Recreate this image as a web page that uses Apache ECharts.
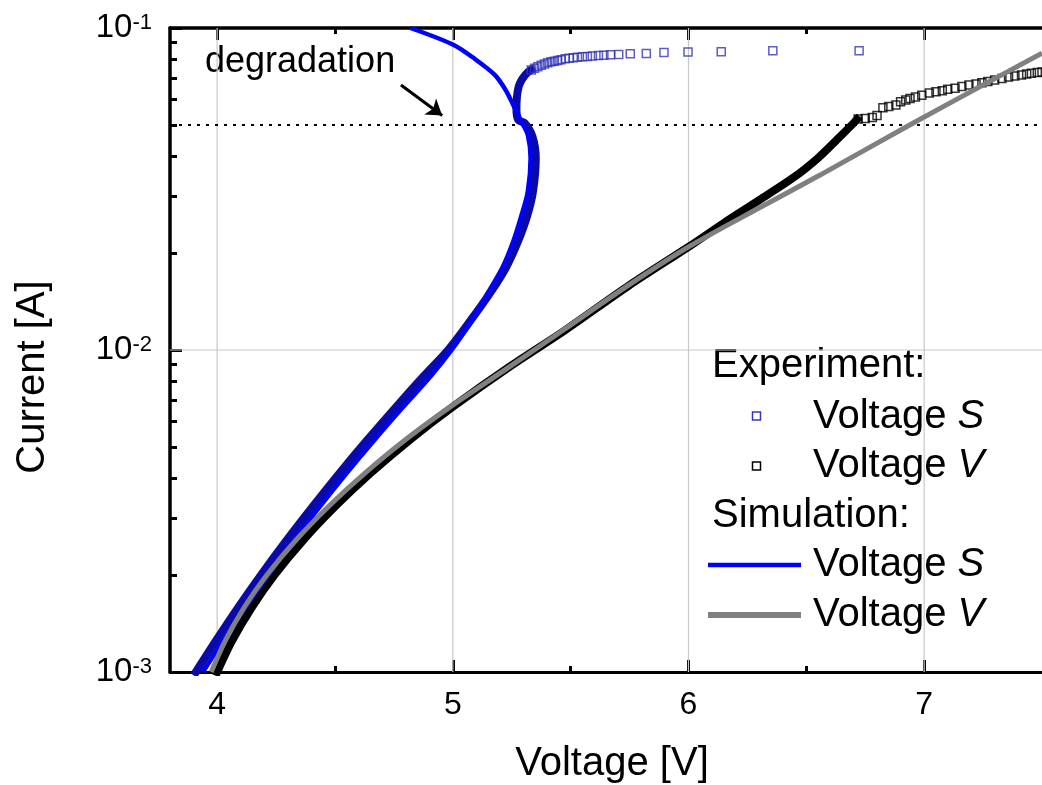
<!DOCTYPE html>
<html><head><meta charset="utf-8">
<script src="https://cdn.jsdelivr.net/npm/echarts@6/dist/echarts.min.js"></script>
<style>html,body{margin:0;padding:0;background:#fff}#c{width:1042px;height:785px}</style>
</head><body><div id="c"></div>
<script>
const FONT = "'Liberation Sans', Arial, Helvetica, sans-serif";

// axis ticks
const xMin = 3.8, xMax = 7.5;
const yMin = 0.001, yMax = 0.1;
const xMajorTicks = [4, 5, 6, 7];
const xMinorTicks = [4.5, 5.5, 6.5];
const yMinorTicks = [0.002,0.003,0.004,0.005,0.006,0.007,0.008,0.009,0.02,0.03,0.04,0.05,0.06,0.07,0.08,0.09];
const xGrid = [4, 5, 6, 7];
const yGrid = [0.01];

// degradation level and arrow
const degradationLevel = [[3.8, 0.05], [7.5, 0.05]];
const degradationArrow = [[4.78, 0.0665], [4.955, 0.0535]];

// Experiment: Voltage S (dense part + separated squares)
const expS_dense = [[3.91,0.001],[3.995,0.00125],[4.093,0.0016],[4.186,0.002],[4.296,0.00257],[4.411,0.0033],[4.52,0.00415],[4.632,0.0052],[4.759,0.00665],[4.877,0.0083],[4.98,0.01],[5.07,0.0122],[5.16,0.0151],[5.225,0.018],[5.275,0.0216],[5.315,0.026],[5.34,0.031],[5.352,0.0394],[5.338,0.046],[5.305,0.0507],[5.278,0.0518],[5.27,0.056],[5.272,0.061],[5.28,0.066],[5.295,0.0695],[5.315,0.0725],[5.333,0.0741]];
const expS_points = [[5.333,0.0741],[5.347,0.0750],[5.361,0.0758],[5.375,0.0766],[5.389,0.0773],[5.403,0.0780],[5.417,0.0785],[5.431,0.0789],[5.445,0.0793],[5.459,0.0797],[5.477,0.0802],[5.494,0.0806],[5.511,0.0809],[5.529,0.0811],[5.550,0.0814],[5.571,0.0816],[5.592,0.0818],[5.618,0.0821],[5.641,0.0823],[5.669,0.0826],[5.704,0.0828],[5.753,0.0832],[5.821,0.0834],[5.896,0.0840],[5.998,0.0842],[6.139,0.0844],[6.358,0.0850],[6.724,0.0850]];

// Experiment: Voltage V
const expV_dense = [[4.0,0.001],[4.063,0.00125],[4.15,0.0016],[4.243,0.002],[4.366,0.00257],[4.507,0.0033],[4.65,0.00414],[4.823,0.0053],[5.0,0.00666],[5.24,0.00886],[5.475,0.0115],[5.75,0.0159],[6.0,0.0209],[6.15,0.0248],[6.3,0.0292],[6.45,0.0345],[6.55,0.0395],[6.63,0.045],[6.70,0.0506],[6.715,0.052]];
const expV_points = [[6.72,0.0522],[6.75,0.0524],[6.78,0.0527],[6.80,0.0535],[6.825,0.0565],[6.85,0.057],[6.88,0.0577],[6.90,0.059],[6.922,0.0598],[6.94,0.0604],[6.963,0.061],[6.99,0.0618],[7.022,0.0628],[7.05,0.0634],[7.077,0.0639],[7.10,0.0645],[7.131,0.065],[7.16,0.0658],[7.19,0.0665],[7.22,0.067],[7.245,0.0676],[7.27,0.0682],[7.299,0.0689],[7.33,0.0697],[7.358,0.0705],[7.385,0.071],[7.413,0.0715],[7.435,0.072],[7.455,0.0723],[7.48,0.0727],[7.5,0.073]];

// Simulation
const simS = [[3.94,0.001],[4.025,0.00125],[4.123,0.0016],[4.216,0.002],[4.326,0.00257],[4.441,0.0033],[4.55,0.00415],[4.662,0.0052],[4.789,0.00665],[4.907,0.0083],[4.995,0.01],[5.075,0.0122],[5.15,0.0151],[5.21,0.018],[5.255,0.0216],[5.29,0.026],[5.318,0.031],[5.33,0.0394],[5.318,0.0466],[5.294,0.0507],[5.262,0.0565],[5.225,0.064],[5.178,0.0715],[5.095,0.080],[5.004,0.0886],[4.82,0.1]];
const simV = [[3.975,0.001],[4.034,0.00125],[4.118,0.0016],[4.211,0.002],[4.335,0.00257],[4.479,0.0033],[4.626,0.00414],[4.804,0.0053],[4.989,0.00666],[5.24,0.00886],[5.466,0.0115],[5.746,0.0159],[6.0,0.0209],[6.307,0.0278],[6.56,0.035],[6.95,0.0505],[7.216,0.0645],[7.5,0.0835]];

const COL_EXP_S = '#0a0aa8', COL_EXP_S_PT = '#3434b8', COL_SIM_S = '#0000ff', COL_SIM_V = '#808080';

const chart = echarts.init(document.getElementById('c'), null, {renderer: 'canvas'});

const baseX = {type: 'value', min: xMin, max: xMax, splitLine: {show: false}};
const legendText = (t, x, y, rich) => ({type: 'text', x: x, y: y, silent: true,
  style: rich ? {text: t, fill: '#000', align: 'left', verticalAlign: 'middle',
      rich: {n: {fontSize: 40, fontFamily: FONT, fill: '#000'}, i: {fontSize: 40, fontFamily: FONT, fontStyle: 'italic', fill: '#000'}}}
    : {text: t, fontSize: 40, fontFamily: FONT, fill: '#000', align: 'left', verticalAlign: 'middle'}});

const option = {
  animation: false,
  backgroundColor: '#fff',
  grid: {left: 170, top: 28, right: -9, bottom: 113},
  xAxis: [
    Object.assign({}, baseX, {position: 'bottom',
      axisLine: {show: true, lineStyle: {color: '#000', width: 3}},
      axisTick: {show: true, inside: true, length: 12, customValues: xMajorTicks, lineStyle: {color: '#000', width: 3}},
      axisLabel: {show: true, customValues: xMajorTicks, fontSize: 32, fontFamily: FONT, color: '#000', margin: 17}}),
    Object.assign({}, baseX, {position: 'bottom',
      axisLine: {show: false},
      axisTick: {show: true, inside: true, length: 6, customValues: xMinorTicks, lineStyle: {color: '#000', width: 3}},
      axisLabel: {show: false}}),
    Object.assign({}, baseX, {position: 'top',
      axisLine: {show: true, lineStyle: {color: '#000', width: 3.5}},
      axisTick: {show: true, inside: true, length: 12, customValues: xMajorTicks, lineStyle: {color: '#000', width: 3}},
      axisLabel: {show: false}}),
    Object.assign({}, baseX, {position: 'top',
      axisLine: {show: false},
      axisTick: {show: true, inside: true, length: 6, customValues: xMinorTicks, lineStyle: {color: '#000', width: 3}},
      axisLabel: {show: false}})
  ],
  yAxis: [
    {type: 'log', logBase: 10, min: yMin, max: yMax, position: 'left',
      splitLine: {show: false},
      axisLine: {show: true, lineStyle: {color: '#000', width: 3.5}},
      axisTick: {show: true, inside: true, length: 12, lineStyle: {color: '#000', width: 3}},
      axisLabel: {show: true, margin: 18,
        formatter: v => '{b|10}{s|' + Math.round(Math.log10(v)) + '}',
        rich: {b: {fontSize: 33, fontFamily: FONT, color: '#000'},
               s: {fontSize: 22, fontFamily: FONT, color: '#000', verticalAlign: 'top'}}}},
    {type: 'value', min: Math.log10(yMin), max: Math.log10(yMax), position: 'left',
      splitLine: {show: false}, axisLine: {show: false}, axisLabel: {show: false},
      axisTick: {show: true, inside: true, length: 7, customValues: yMinorTicks.map(Math.log10), lineStyle: {color: '#000', width: 3}}}
  ],
  series: [
    {type: 'custom', name: 'vgrid', z: 1, silent: true, xAxisIndex: 0, yAxisIndex: 0,
      data: xGrid.map(v => [v, yMin]),
      renderItem: (params, api) => {
        const p0 = api.coord([api.value(0), yMin]);
        const p1 = api.coord([api.value(0), yMax]);
        return {type: 'line', shape: {x1: p0[0], y1: p0[1], x2: p1[0], y2: p1[1]}, style: {stroke: '#c8c8c8', lineWidth: 1.2}};
      }},
    {type: 'custom', name: 'hgrid', z: 1, silent: true, xAxisIndex: 0, yAxisIndex: 0,
      data: yGrid.map(v => [xMin, v]),
      renderItem: (params, api) => {
        const p0 = api.coord([xMin, api.value(1)]);
        const p1 = api.coord([xMax, api.value(1)]);
        return {type: 'line', shape: {x1: p0[0], y1: p0[1], x2: p1[0], y2: p1[1]}, style: {stroke: '#c8c8c8', lineWidth: 1.2}};
      }},
    {type: 'line', name: 'degradation', z: 2, silent: true, data: degradationLevel, symbol: 'none',
      lineStyle: {color: '#000', width: 2, type: [3, 6]},
      markLine: {silent: true, symbol: ['none', 'arrow'], symbolSize: 15, label: {show: false},
        lineStyle: {color: '#000', width: 3, type: 'solid'},
        emphasis: {disabled: true},
        data: [[{coord: degradationArrow[0]}, {coord: degradationArrow[1]}]]}},
    {type: 'line', name: 'Exp S dense', z: 3, data: expS_dense, symbol: 'none', silent: true, smooth: 0.3,
      lineStyle: {color: COL_EXP_S, width: 8, join: 'round', cap: 'square'}},
    {type: 'scatter', name: 'Exp S', z: 3, data: expS_points, symbol: 'rect', symbolSize: 8, silent: true,
      itemStyle: {color: 'rgba(255,255,255,0)', borderColor: COL_EXP_S_PT, borderWidth: 1.5}},
    {type: 'line', name: 'Exp V dense', z: 3, data: expV_dense, symbol: 'none', silent: true, smooth: 0.3,
      lineStyle: {color: '#000', width: 8, join: 'round', cap: 'square'}},
    {type: 'scatter', name: 'Exp V', z: 3, data: expV_points, symbol: 'rect', symbolSize: 8, silent: true,
      itemStyle: {color: 'rgba(255,255,255,0)', borderColor: '#000', borderWidth: 1.5}},
    {type: 'line', name: 'Sim S', z: 4, data: simS, symbol: 'none', smooth: 0.3, silent: true,
      lineStyle: {color: COL_SIM_S, width: 4.5}},
    {type: 'line', name: 'Sim V', z: 4, data: simV, symbol: 'none', smooth: 0.3, silent: true,
      lineStyle: {color: COL_SIM_V, width: 5}}
  ],
  graphic: [
    {type: 'text', x: 33, y: 377, rotation: Math.PI / 2, silent: true,
      style: {text: 'Current [A]', fontSize: 40, fontFamily: FONT, fill: '#000', align: 'center', verticalAlign: 'middle'}},
    {type: 'text', x: 612, y: 764, silent: true,
      style: {text: 'Voltage [V]', fontSize: 40, fontFamily: FONT, fill: '#000', align: 'center', verticalAlign: 'middle'}},
    {type: 'text', x: 205, y: 62, silent: true,
      style: {text: 'degradation', fontSize: 36, fontFamily: FONT, fill: '#000', align: 'left', verticalAlign: 'middle'}},
    legendText('Experiment:', 712, 366, false),
    {type: 'rect', shape: {x: 752.5, y: 412, width: 8, height: 8}, silent: true,
      style: {fill: 'none', stroke: COL_EXP_S_PT, lineWidth: 1.5}},
    legendText('{n|Voltage }{i|S}', 813, 417, true),
    {type: 'rect', shape: {x: 752.5, y: 462, width: 8, height: 8}, silent: true,
      style: {fill: 'none', stroke: '#000', lineWidth: 1.5}},
    legendText('{n|Voltage }{i|V}', 813, 466, true),
    legendText('Simulation:', 712, 516, false),
    {type: 'line', shape: {x1: 708, y1: 565, x2: 801, y2: 565}, silent: true,
      style: {stroke: COL_SIM_S, lineWidth: 4.5}},
    legendText('{n|Voltage }{i|S}', 813, 565, true),
    {type: 'line', shape: {x1: 708, y1: 615, x2: 801, y2: 615}, silent: true,
      style: {stroke: COL_SIM_V, lineWidth: 6}},
    legendText('{n|Voltage }{i|V}', 813, 615, true)
  ]
};
chart.setOption(option);
</script>
</body></html>
